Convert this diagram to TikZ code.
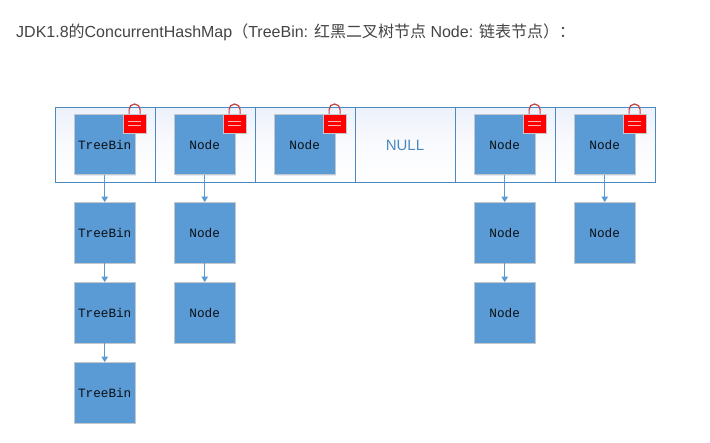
\documentclass[tikz,border=0pt]{standalone}
\usepackage{fontspec}
\setmainfont{Liberation Sans}
\setmonofont{Liberation Mono}
\newfontfamily\cjk{Noto Sans CJK SC}
\usetikzlibrary{arrows.meta,shadows}
\definecolor{boxblue}{HTML}{5B9BD5}
\definecolor{cellline}{HTML}{4A8AC0}
\definecolor{boxline}{HTML}{C4C8CC}
\definecolor{titlegray}{HTML}{444444}
\definecolor{cellshade}{HTML}{EDF1FA}
\definecolor{shadowblue}{HTML}{DDE6F2}
\tikzset{
  x=1pt,y=-1pt,
  softshadow/.style={drop shadow={shadow xshift=1.2pt,shadow yshift=-1.2pt,fill=shadowblue,opacity=0.8}},
  cell/.style={draw=cellline,line width=1pt,minimum width=100pt,minimum height=75pt,inner sep=0pt,anchor=north west,top color=cellshade,bottom color=white,middle color=white!70!cellshade},
  nodebox/.style={draw=boxline,line width=0.9pt,fill=boxblue,minimum width=60.5pt,minimum height=60.5pt,inner sep=0pt,softshadow,font=\ttfamily\fontsize{12.7}{13}\selectfont,text=black!90!boxblue},
  lockbody/.style={draw=boxline,line width=0.7pt,fill=red,minimum width=22.5pt,minimum height=18.5pt,inner sep=0pt,anchor=north west,softshadow},
  link/.style={draw=boxblue,line width=0.9pt,xshift=0.4pt,-{Triangle[length=5.5pt,width=6.5pt]}},
  shackle/.style={draw=red!70!black!75!white,line width=1.2pt},
  lockbar/.style={draw=white!70!red,line width=0.9pt},
}
\begin{document}
\begin{tikzpicture}
\useasboundingbox (0,0) rectangle (710,443);
\fill[white] (0,0) rectangle (710,443);
\node[anchor=base west,inner sep=0pt,text=titlegray,font=\fontsize{16}{18}\selectfont] (title) at (16,37.6)
  {JDK1.8{\cjk 的}ConcurrentHashMap{\cjk （}TreeBin: {\cjk 红黑二叉树节点} Node: {\cjk 链表节点}{\cjk ）：}};
% table cells
\node[cell] (c1) at (55,107.5) {};
\node[cell] (c2) at (154.5,107.5) {};
\node[cell] (c3) at (254.5,107.5) {};
\node[cell,text=cellline,font=\fontsize{15}{16}\selectfont] (c4) at (354.5,107.5) {NULL};
\node[cell] (c5) at (454.5,107.5) {};
\node[cell] (c6) at (554.5,107.5) {};
% head boxes
\node[nodebox] (a1) at (104.7,144.6) {TreeBin};
\node[nodebox] (b1) at (204.7,144.6) {Node};
\node[nodebox] (d1) at (304.7,144.6) {Node};
\node[nodebox] (e1) at (504.7,144.6) {Node};
\node[nodebox] (f1) at (604.7,144.6) {Node};
% chains
\node[nodebox] (a2) at (104.7,232.8) {TreeBin};
\node[nodebox] (a3) at (104.7,312.8) {TreeBin};
\node[nodebox] (a4) at (104.7,392.8) {TreeBin};
\node[nodebox] (b2) at (204.7,232.8) {Node};
\node[nodebox] (b3) at (204.7,312.8) {Node};
\node[nodebox] (e2) at (504.7,232.8) {Node};
\node[nodebox] (e3) at (504.7,312.8) {Node};
\node[nodebox] (f2) at (604.7,232.8) {Node};
% connectors
\draw[link] (a1) -- (a2);
\draw[link] (a2) -- (a3);
\draw[link] (a3) -- (a4);
\draw[link] (b1) -- (b2);
\draw[link] (b2) -- (b3);
\draw[link] (e1) -- (e2);
\draw[link] (e2) -- (e3);
\draw[link] (f1) -- (f2);
% locks
\foreach \n/\lx in {l1/123.3,l2/223.3,l3/323.3,l5/523.3,l6/623.3}{
  \draw[shackle] (\lx+5.8,114) -- (\lx+5.8,109.5) arc[start angle=180,end angle=0,radius=5.5pt] -- (\lx+16.8,114);
  \node[lockbody] (\n) at (\lx,114.2) {};
  \draw[lockbar] ([xshift=-6.5pt,yshift=-2pt]\n.center) -- ([xshift=6.5pt,yshift=-2pt]\n.center);
  \draw[lockbar] ([xshift=-6.5pt,yshift=2pt]\n.center) -- ([xshift=6.5pt,yshift=2pt]\n.center);
}
\end{tikzpicture}
\end{document}
